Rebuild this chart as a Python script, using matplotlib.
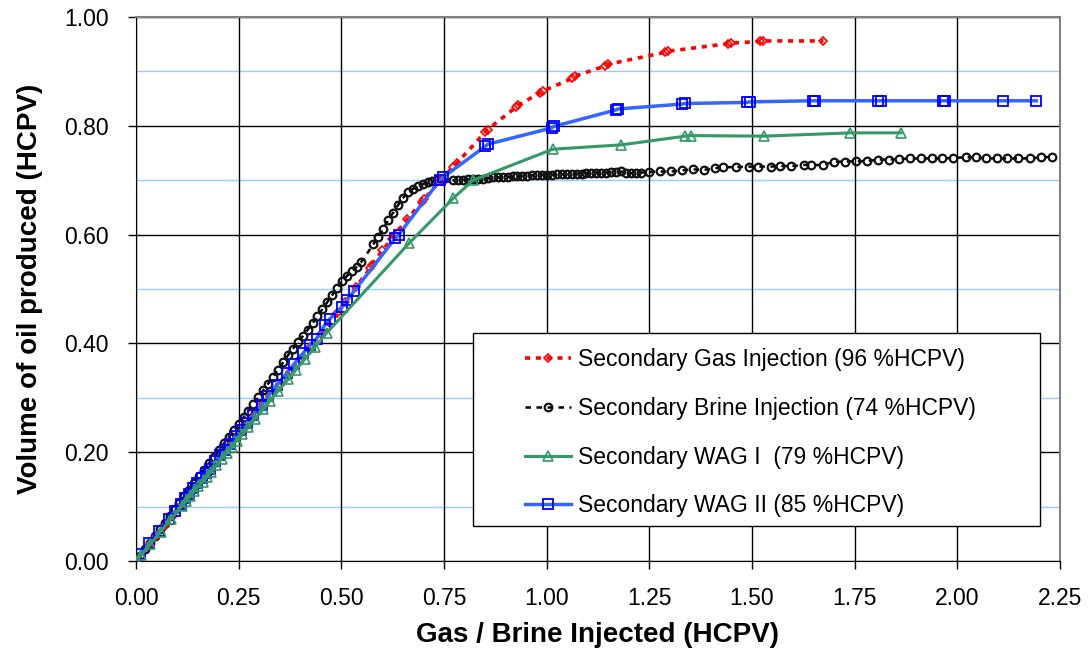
import matplotlib
matplotlib.use("Agg")
import matplotlib.pyplot as plt
from matplotlib.patches import Rectangle
from matplotlib.ticker import MultipleLocator, FormatStrFormatter

plt.rcParams["font.family"] = ["Liberation Sans", "DejaVu Sans"]

# Secondary gas injection (red)
gas_x = [0.000, 0.012, 0.030, 0.050, 0.070, 0.090, 0.110, 0.130, 0.150, 0.170,
         0.190, 0.210, 0.230, 0.250, 0.270, 0.290, 0.310, 0.326, 0.350, 0.375,
         0.400, 0.425, 0.450, 0.464, 0.490, 0.510, 0.535, 0.570, 0.575, 0.600,
         0.623, 0.630, 0.660, 0.696, 0.702, 0.740, 0.773, 0.781, 0.850, 0.856,
         0.925, 0.931, 0.985, 0.991, 1.062, 1.068, 1.143, 1.149, 1.288, 1.295,
         1.442, 1.448, 1.520, 1.528, 1.674]
gas_y = [0.000, 0.010, 0.027, 0.046, 0.065, 0.083, 0.102, 0.120, 0.139, 0.157,
         0.176, 0.194, 0.213, 0.231, 0.250, 0.269, 0.288, 0.303, 0.325, 0.348,
         0.371, 0.394, 0.417, 0.428, 0.455, 0.476, 0.503, 0.538, 0.545, 0.571,
         0.592, 0.600, 0.628, 0.660, 0.666, 0.698, 0.725, 0.731, 0.788, 0.793,
         0.834, 0.838, 0.861, 0.864, 0.887, 0.891, 0.910, 0.913, 0.935, 0.937,
         0.951, 0.952, 0.955, 0.956, 0.956]

# Secondary brine injection (black)
brine_x = [0.000, 0.010, 0.022, 0.034, 0.046, 0.058, 0.070, 0.082, 0.094, 0.106,
           0.118, 0.130, 0.142, 0.154, 0.166, 0.178, 0.190, 0.202, 0.214, 0.226,
           0.238, 0.250, 0.262, 0.274, 0.286, 0.298, 0.310, 0.322, 0.334, 0.346,
           0.358, 0.370, 0.382, 0.394, 0.406, 0.418, 0.430, 0.442, 0.454, 0.466,
           0.478, 0.490, 0.502, 0.514, 0.526, 0.538, 0.548,
           0.578, 0.590, 0.602, 0.614, 0.626, 0.638, 0.650, 0.662, 0.674, 0.686,
           0.698, 0.710, 0.722, 0.734, 0.744,
           0.773, 0.785, 0.797, 0.809, 0.821, 0.833, 0.845, 0.857, 0.869, 0.881,
           0.893, 0.905, 0.917, 0.929, 0.941, 0.953, 0.965, 0.977, 0.989, 1.001,
           1.013, 1.025, 1.037, 1.049, 1.061, 1.073, 1.085, 1.097, 1.109, 1.121,
           1.133, 1.145, 1.157, 1.169, 1.181, 1.193, 1.205, 1.217, 1.229, 1.249,
           1.276, 1.303, 1.330, 1.356, 1.383, 1.410, 1.429, 1.461, 1.493, 1.515,
           1.546, 1.568, 1.595, 1.627, 1.644, 1.673, 1.700, 1.726, 1.753, 1.780,
           1.807, 1.834, 1.858, 1.885, 1.911, 1.938, 1.963, 1.989, 2.021, 2.045,
           2.070, 2.097, 2.121, 2.148, 2.177, 2.204, 2.230]
brine_y = [0.000, 0.010, 0.022, 0.034, 0.046, 0.058, 0.070, 0.083, 0.095, 0.107,
           0.119, 0.131, 0.143, 0.156, 0.168, 0.180, 0.192, 0.204, 0.216, 0.228,
           0.240, 0.252, 0.264, 0.276, 0.289, 0.301, 0.314, 0.326, 0.339, 0.352,
           0.365, 0.378, 0.390, 0.402, 0.413, 0.425, 0.437, 0.450, 0.463, 0.476,
           0.489, 0.502, 0.514, 0.524, 0.533, 0.541, 0.549,
           0.582, 0.596, 0.611, 0.626, 0.640, 0.654, 0.667, 0.678, 0.684, 0.689,
           0.693, 0.696, 0.698, 0.700, 0.701,
           0.700, 0.700, 0.701, 0.702, 0.702, 0.703, 0.703, 0.704, 0.705, 0.705,
           0.706, 0.706, 0.707, 0.707, 0.708, 0.708, 0.709, 0.709, 0.710, 0.710,
           0.710, 0.711, 0.711, 0.711, 0.712, 0.712, 0.712, 0.713, 0.713, 0.714,
           0.714, 0.714, 0.715, 0.715, 0.716, 0.714, 0.713, 0.713, 0.714, 0.715,
           0.716, 0.716, 0.718, 0.720, 0.719, 0.722, 0.724, 0.724, 0.725, 0.725,
           0.725, 0.726, 0.726, 0.728, 0.728, 0.728, 0.734, 0.734, 0.735, 0.735,
           0.738, 0.738, 0.739, 0.740, 0.740, 0.740, 0.740, 0.741, 0.742, 0.742,
           0.740, 0.740, 0.740, 0.740, 0.740, 0.742, 0.743]

# Secondary WAG I (green)
wag1_x = [0.000, 0.013, 0.035, 0.060, 0.085, 0.112, 0.122, 0.132, 0.142, 0.152,
          0.163, 0.173, 0.183, 0.196, 0.209, 0.221, 0.233, 0.245, 0.259, 0.274,
          0.290, 0.310, 0.326, 0.347, 0.371, 0.390, 0.412, 0.436, 0.464,
          0.666, 0.773, 0.821, 1.015, 1.182, 1.338, 1.352, 1.529, 1.739, 1.863]
wag1_y = [0.000, 0.011, 0.031, 0.054, 0.077, 0.101, 0.110, 0.119, 0.128, 0.137,
          0.146, 0.155, 0.164, 0.176, 0.188, 0.198, 0.209, 0.221, 0.233, 0.246,
          0.261, 0.279, 0.294, 0.313, 0.334, 0.352, 0.372, 0.393, 0.419,
          0.585, 0.667, 0.700, 0.757, 0.765, 0.781, 0.782, 0.781, 0.787, 0.787]

# Secondary WAG II (blue)
wag2_x = [0.000, 0.011, 0.032, 0.057, 0.081, 0.095, 0.109, 0.119, 0.129, 0.138,
          0.149, 0.160, 0.170, 0.180, 0.192, 0.205, 0.217, 0.229, 0.241, 0.255,
          0.270, 0.286, 0.306, 0.322, 0.343, 0.367, 0.385, 0.407, 0.424, 0.440,
          0.460, 0.472, 0.501, 0.513, 0.531, 0.631, 0.640, 0.740, 0.747, 0.850,
          0.856, 1.012, 1.018, 1.168, 1.174, 1.330, 1.336, 1.488, 1.494, 1.648,
          1.654, 1.807, 1.813, 1.964, 1.970, 2.111, 2.192]
wag2_y = [0.000, 0.013, 0.033, 0.056, 0.078, 0.091, 0.105, 0.115, 0.124, 0.134,
          0.143, 0.152, 0.161, 0.170, 0.183, 0.195, 0.204, 0.215, 0.229, 0.241,
          0.254, 0.268, 0.287, 0.303, 0.324, 0.345, 0.362, 0.382, 0.397, 0.409,
          0.434, 0.445, 0.467, 0.479, 0.496, 0.593, 0.600, 0.700, 0.705, 0.762,
          0.766, 0.796, 0.799, 0.829, 0.831, 0.840, 0.841, 0.843, 0.844, 0.846,
          0.846, 0.846, 0.846, 0.846, 0.846, 0.846, 0.846]

labels = ["Secondary Gas Injection (96 %HCPV)",
          "Secondary Brine Injection (74 %HCPV)",
          "Secondary WAG I  (79 %HCPV)",
          "Secondary WAG II (85 %HCPV)"]

fig = plt.figure(figsize=(10.92, 6.54), dpi=100)
ax = fig.add_axes([0.1245, 0.1422, 0.8462, 0.8318])

# grid: light blue minor lines, black major lines
for yv in [0.1, 0.3, 0.5, 0.7, 0.9]:
    ax.axhline(yv, color="#99CCFF", lw=1, zorder=0)
ax.grid(True, which="major", color="black", lw=1, zorder=0.5)
ax.set_axisbelow(True)

l_brine, = ax.plot(brine_x, brine_y, color="black", lw=1.8, dashes=(2.2, 2.2),
                   marker="o", ms=5.5, mfc="none", mec="#111111", mew=1.6, zorder=2)
l_gas, = ax.plot(gas_x, gas_y, color="red", lw=2.6, dashes=(1.4, 1.6),
                 marker="D", ms=4, mfc="none", mec="red", mew=1.2, zorder=3)
l_wag2, = ax.plot(wag2_x, wag2_y, color="#3366FF", lw=2.5,
                  marker="s", ms=7, mfc="none", mec="#0000FF", mew=1.3, zorder=4)
l_wag1, = ax.plot(wag1_x, wag1_y, color="#339966", lw=2.2,
                  marker="^", ms=6.5, mfc="none", mec="#339966", mew=1.2, zorder=5)

ax.set_xlim(0, 2.25)
ax.set_ylim(0, 1.0)
ax.xaxis.set_major_locator(MultipleLocator(0.25))
ax.yaxis.set_major_locator(MultipleLocator(0.2))
ax.xaxis.set_major_formatter(FormatStrFormatter("%.2f"))
ax.yaxis.set_major_formatter(FormatStrFormatter("%.2f"))
ax.tick_params(axis="both", direction="out", length=5.5, width=1, labelsize=16.5)
ax.tick_params(axis="y", pad=14)
ax.tick_params(axis="x", pad=13)

for side in ["left", "bottom"]:
    ax.spines[side].set_color("black")
for side in ["top", "right"]:
    ax.spines[side].set_color("#808080")
    ax.spines[side].set_linewidth(1.5)

ax.set_xlabel("Gas / Brine Injected (HCPV)", fontsize=20, fontweight="bold", labelpad=9)
ax.set_ylabel("Volume of oil produced (HCPV)", fontsize=20, fontweight="bold", labelpad=15)

# legend box drawn as a patch, legend entries placed inside it
box = Rectangle((0.3644, 0.0643), 0.614, 0.3543, transform=ax.transAxes,
                facecolor="white", edgecolor="black", lw=1, zorder=10)
ax.add_patch(box)
leg = ax.legend([l_gas, l_brine, l_wag1, l_wag2], labels, loc="upper left",
                bbox_to_anchor=(0.421, 0.391), frameon=False, fontsize=16.5,
                handlelength=2.0, handletextpad=0.3, labelspacing=1.12,
                borderpad=0, borderaxespad=0, numpoints=1)
leg.set_zorder(11)

fig.savefig("out.png", dpi=100)
